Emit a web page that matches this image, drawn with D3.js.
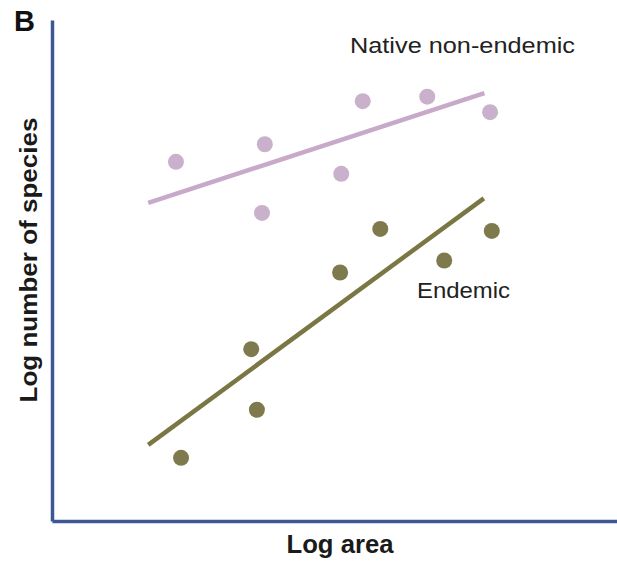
<!DOCTYPE html>
<html><head><meta charset="utf-8">
<script src="https://cdn.jsdelivr.net/npm/d3@7"></script>
<style>body{margin:0;background:#fff}svg{display:block}</style>
</head><body>
<script>
// Data (arbitrary log units, 0-10 on each axis)
const nativeX = [2.19, 3.76, 3.71, 5.11, 5.49, 6.63, 7.74];
const nativeY = [7.17, 7.52, 6.15, 6.93, 8.38, 8.47, 8.16];
const endemicX = [2.28, 3.62, 3.52, 5.09, 5.80, 6.93, 7.77];
const endemicY = [1.26, 2.22, 3.43, 4.96, 5.83, 5.20, 5.79];
const nativeFitX = [1.70, 7.64];
const nativeFitY = [6.35, 8.54];
const endemicFitX = [1.70, 7.63];
const endemicFitY = [1.52, 6.44];
const seriesLabels = ["Native non-endemic", "Endemic"];

const W = 617, H = 563;
const svg = d3.select("body").append("svg").attr("width", W).attr("height", H);
const x = d3.scaleLinear().domain([0, 10]).range([52, 618]);
const y = d3.scaleLinear().domain([0, 10]).range([521, 20]);

const axisColor = "#3d5793";
const pink = "#c9b1cb", pinkLine = "#c8a9c9";
const olive = "#7f7a4d", oliveLine = "#7b7744";

// axes (no ticks)
const xAxis = d3.axisBottom(x).tickValues([]).tickSizeOuter(0);
const yAxis = d3.axisLeft(y).tickValues([]).tickSizeOuter(0);
svg.append("g").attr("transform", `translate(0,${y(0)})`).call(xAxis)
  .select(".domain").attr("stroke", axisColor).attr("stroke-width", 3.5);
svg.append("g").attr("transform", `translate(${x(0)},0)`).call(yAxis)
  .select(".domain").attr("stroke", axisColor).attr("stroke-width", 3.5);

const line = d3.line().x(d => x(d[0])).y(d => y(d[1]));

function series(xs, ys, fx, fy, c, lc) {
  svg.append("path").datum(d3.zip(fx, fy)).attr("d", line)
    .attr("fill", "none").attr("stroke", lc).attr("stroke-width", 4.5);
  svg.append("g").selectAll("circle").data(d3.zip(xs, ys)).join("circle")
    .attr("cx", d => x(d[0])).attr("cy", d => y(d[1])).attr("r", 8)
    .attr("fill", c);
}
series(nativeX, nativeY, nativeFitX, nativeFitY, pink, pinkLine);
series(endemicX, endemicY, endemicFitX, endemicFitY, olive, oliveLine);

const font = "Liberation Sans, Arial, sans-serif";
svg.append("text").attr("x", 350).attr("y", 53).attr("font-family", font)
  .attr("font-size", 22).attr("fill", "#222").attr("textLength", 225)
  .attr("lengthAdjust", "spacingAndGlyphs").text(seriesLabels[0]);
svg.append("text").attr("x", 417).attr("y", 298).attr("font-family", font)
  .attr("font-size", 22).attr("fill", "#222").attr("textLength", 93)
  .attr("lengthAdjust", "spacingAndGlyphs").text(seriesLabels[1]);

svg.append("text").attr("x", 14).attr("y", 31).attr("font-family", font)
  .attr("font-weight", "bold").attr("font-size", 29).attr("fill", "#111").text("B");

svg.append("text").attr("x", 340).attr("y", 553).attr("text-anchor", "middle")
  .attr("font-family", font).attr("font-weight", "bold").attr("font-size", 25)
  .attr("fill", "#1a1a1a").attr("textLength", 107).attr("lengthAdjust", "spacingAndGlyphs")
  .text("Log area");

svg.append("text").attr("transform", "translate(37,260) rotate(-90)")
  .attr("text-anchor", "middle").attr("font-family", font).attr("font-weight", "bold")
  .attr("font-size", 24).attr("fill", "#1a1a1a").attr("textLength", 285)
  .attr("lengthAdjust", "spacingAndGlyphs").text("Log number of species");
</script>
</body></html>
